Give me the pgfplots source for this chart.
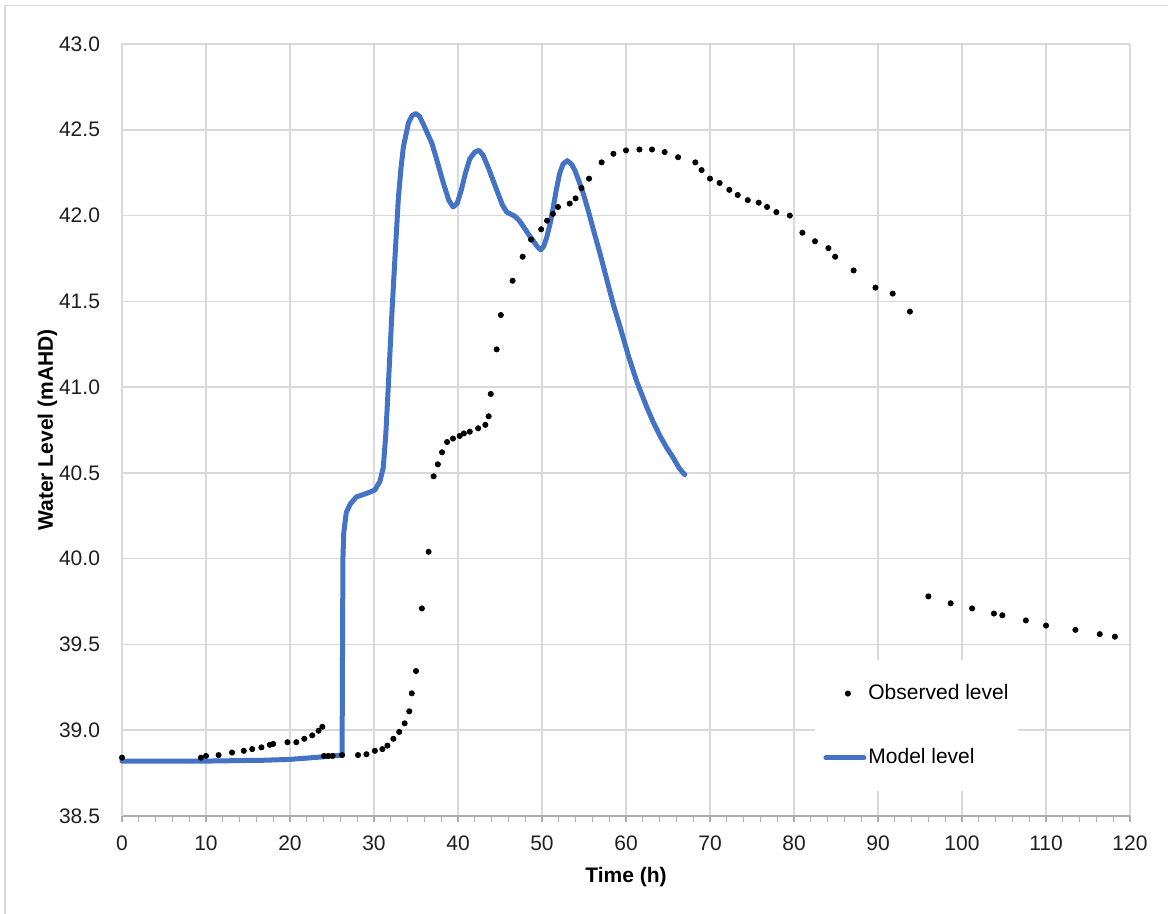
\documentclass[border=0pt]{standalone}
\usepackage{pgfplots}
\pgfplotsset{compat=1.18}
\usepackage{fontspec}
\setmainfont{Liberation Sans}
\definecolor{modelblue}{RGB}{68,114,196}
\definecolor{gridgray}{RGB}{217,217,217}
\definecolor{txt}{RGB}{30,30,30}
\begin{document}
\begin{tikzpicture}
\useasboundingbox (0,0) rectangle (584pt,457pt);
\draw[gridgray, line width=0.8pt] (2.5pt,0) -- (2.5pt,454.2pt) -- (584pt,454.2pt);
\begin{axis}[
  at={(61pt,49pt)}, anchor=south west,
  scale only axis, width=504pt, height=386pt,
  xmin=0, xmax=120, ymin=38.5, ymax=43.0,
  xtick={0,10,...,120}, ytick={38.5,39,...,43},
  minor x tick num=4,
  tick align=outside,
  major tick length=3pt, minor tick length=3pt,
  xtick style={gridgray!80!black, line width=0.6pt},
  ytick style={draw=none},
  axis x line*=bottom, axis y line*=left,
  x axis line style={gridgray!80!black, line width=0.8pt, -},
  y axis line style={gridgray, line width=0.8pt, -},
  grid=major,
  major grid style={gridgray, line width=0.8pt},
  /pgf/number format/assume math mode=true,
  ticklabel style={font=\fontsize{10.5}{12}\selectfont, text=txt},
  yticklabel style={/pgf/number format/.cd, fixed, fixed zerofill, precision=1, /tikz/.cd, xshift=-4.5pt},
  xticklabel style={/pgf/number format/.cd, fixed, precision=0, /tikz/.cd, yshift=-3.5pt},
  xlabel={\bfseries Time (h)}, ylabel={\bfseries Water Level (mAHD)},
  label style={font=\fontsize{10.5}{12}\selectfont, text=black},
  xlabel style={yshift=-1.5pt},
  ylabel style={yshift=-6pt},
  legend style={draw=none, fill=white, at={(0.6875,0.202)}, anchor=north west,
    inner xsep=4pt, inner ysep=10pt, row sep=19pt,
    font=\fontsize{10.5}{12}\selectfont, cells={anchor=west},
    nodes={inner xsep=1pt},
    /tikz/every even column/.append style={column sep=0pt}},
  legend cell align=left,
  clip=false,
]
\addplot[only marks, mark=*, mark size=1.3pt, black,
  legend image code/.code={\fill[black] (11pt,0pt) circle (1.3pt);}] coordinates {
(0,38.84) (9.4,38.84) (10.0,38.85) (11.5,38.855) (13.1,38.87) (14.5,38.88) (15.5,38.89)
(16.6,38.90) (17.6,38.915) (18.0,38.92) (19.7,38.93) (20.75,38.93) (21.7,38.95)
(22.65,38.97) (23.4,38.997) (23.85,39.02) (24.05,38.85) (24.55,38.85) (25.07,38.85)
(26.2,38.855) (28.1,38.855) (29.1,38.86) (30.1,38.88) (31.0,38.89) (31.6,38.91)
(32.3,38.95) (33.0,38.99) (33.65,39.04) (34.2,39.11) (34.5,39.215) (35.0,39.345)
(35.7,39.71) (36.5,40.04) (37.1,40.48) (37.6,40.55) (38.1,40.62) (38.7,40.68)
(39.4,40.70) (40.2,40.715) (40.7,40.73) (41.4,40.74) (42.4,40.76) (43.25,40.78)
(43.65,40.83) (43.9,40.96) (44.6,41.22) (45.1,41.42) (46.5,41.62) (47.7,41.76)
(48.7,41.86) (49.9,41.92) (50.6,41.97) (51.3,42.01) (51.9,42.05) (53.3,42.07)
(54.0,42.10) (54.7,42.16) (55.6,42.215) (57.1,42.31) (58.5,42.36) (60.0,42.38)
(61.6,42.385) (63.1,42.385) (64.6,42.37) (66.2,42.34) (68.25,42.31) (69.0,42.265)
(70.0,42.215) (71.15,42.19) (72.3,42.15) (73.3,42.12) (74.5,42.09) (75.8,42.075)
(76.8,42.05) (77.9,42.02) (79.5,42.00) (81.0,41.90) (82.5,41.85) (84.1,41.81)
(84.9,41.76) (87.1,41.68) (89.7,41.58) (91.75,41.545) (93.8,41.44)
(96.0,39.78) (98.65,39.74) (101.2,39.71) (103.8,39.68) (104.8,39.67) (107.6,39.64)
(110.0,39.61) (113.5,39.585) (116.4,39.56) (118.2,39.545)
};
\addlegendentry{Observed level}
\addplot[modelblue, line width=2.5pt, line join=round, line cap=round, no marks,
  legend image code/.code={\draw[modelblue, line width=2.5pt] (0pt,0pt) -- (19pt,0pt);}] coordinates {
(0,38.82) (10,38.82) (17,38.825) (20,38.83) (24,38.845) (26.2,38.855) (26.3,40.0)
(26.4,40.15) (26.7,40.27) (27.2,40.32) (27.9,40.36) (29.1,40.38) (30.1,40.40)
(30.7,40.45) (31.1,40.53) (31.4,40.72) (31.7,41.00) (32.1,41.40) (32.5,41.76)
(32.9,42.10) (33.2,42.27) (33.5,42.40) (34.1,42.54) (34.5,42.58) (34.96,42.595)
(35.4,42.58) (35.9,42.53) (36.9,42.42) (37.5,42.32) (38.25,42.19) (38.9,42.09)
(39.4,42.05) (39.9,42.07) (40.4,42.15) (40.9,42.25) (41.4,42.33) (42.0,42.37)
(42.5,42.38) (43.0,42.35) (43.6,42.28) (44.6,42.15) (45.3,42.06) (45.8,42.02)
(46.8,41.995) (47.3,41.97) (47.8,41.935) (48.4,41.89) (49.0,41.85) (49.5,41.815)
(49.85,41.80) (50.2,41.82) (50.55,41.87) (51.0,41.96) (51.35,42.05) (51.7,42.15)
(52.1,42.245) (52.5,42.30) (53.0,42.32) (53.5,42.30) (53.9,42.265) (54.4,42.20)
(54.9,42.13) (55.5,42.03) (56.1,41.92) (56.9,41.78) (57.7,41.63) (58.5,41.48)
(59.3,41.35) (60.3,41.18) (61.3,41.03) (62.5,40.88) (63.2,40.80) (64.0,40.72)
(64.8,40.65) (65.6,40.59) (66.3,40.53) (66.8,40.50) (67.0,40.49)
};
\addlegendentry{Model level}
\end{axis}
\end{tikzpicture}
\end{document}
